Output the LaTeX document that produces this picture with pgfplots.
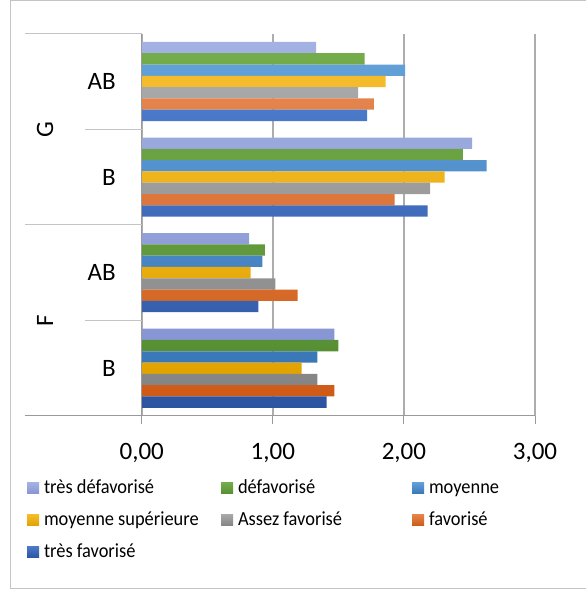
\documentclass[border=0pt]{standalone}
\usepackage{fontspec}
\setmainfont{Carlito}
\newfontfamily\legfont{Carlito}[FakeStretch=0.92]
\usepackage{pgfplots}
\pgfplotsset{compat=1.18}

\definecolor{tdT}{HTML}{A3B2E2}\definecolor{tdB}{HTML}{8796D4}
\definecolor{dT}{HTML}{74AC4C}\definecolor{dB}{HTML}{578F34}
\definecolor{mT}{HTML}{62A0D8}\definecolor{mB}{HTML}{3A77B7}
\definecolor{msT}{HTML}{F4BC2C}\definecolor{msB}{HTML}{E2A300}
\definecolor{afT}{HTML}{A8A8A8}\definecolor{afB}{HTML}{858585}
\definecolor{fT}{HTML}{E4844C}\definecolor{fB}{HTML}{CE5B16}
\definecolor{tfT}{HTML}{4B79C9}\definecolor{tfB}{HTML}{2C54A1}
\definecolor{gridc}{HTML}{ADADAD}
\definecolor{axisc}{HTML}{9A9A9A}
\definecolor{framec}{HTML}{C4C4C4}

\begin{document}
\begin{tikzpicture}[x=1bp,y=1bp]
\useasboundingbox (0,0) rectangle (586,590);
\draw[framec, line width=1bp] (586,589.5) -- (10.5,589.5) -- (10.5,1) -- (586,1);
\begin{axis}[
  at={(141.7bp,174bp)}, anchor=south west,
  scale only axis, width=393.3bp, height=382.3bp,
  xmin=0, xmax=3, ymin=-0.5, ymax=3.5,
  clip=false,
  axis line style={draw=none},
  tick style={draw=none},
  major tick length=0pt,
  xmajorgrids, grid style={gridc, line width=1.8bp},
  xtick={0,1,2,3},
  xticklabels={{0,00},{1,00},{2,00},{3,00}},
  xticklabel style={font=\fontsize{25bp}{30bp}\selectfont, anchor=base, inner sep=0pt, yshift=-44bp},
  ytick={0,1,2,3},
  yticklabels={B,AB,B,AB},
  yticklabel style={font=\fontsize{25bp}{30bp}\selectfont, anchor=east, inner sep=0pt, xshift=-25.7bp},
  xbar, bar width=11.3bp,
  legend columns=3,
  legend cell align=left,
  legend image code/.code={\path[#1, draw=none] (0bp,-5.5bp) rectangle (12bp,5.5bp);},
  legend style={draw=none, fill=none, inner sep=0pt, outer sep=0pt,
    at={(-0.2916,-0.1622)}, anchor=north west,
    font=\legfont\fontsize{20bp}{24bp}\selectfont,
    nodes={inner sep=0pt, text height=15bp, text depth=5bp},
    row sep=12bp,
    /tikz/every odd column/.append style={column sep=5bp},
    /tikz/every even column/.append style={column sep=0bp}},
]
\addplot[xbar, draw=none, top color=tdT, bottom color=tdB, bar shift=33.9bp]
  coordinates {(1.47,0) (0.82,1) (2.52,2) (1.33,3)};
\addlegendentry{\makebox[177bp][l]{très défavorisé}}
\addplot[xbar, draw=none, top color=dT, bottom color=dB, bar shift=22.6bp]
  coordinates {(1.50,0) (0.94,1) (2.45,2) (1.70,3)};
\addlegendentry{\makebox[174bp][l]{défavorisé}}
\addplot[xbar, draw=none, top color=mT, bottom color=mB, bar shift=11.3bp]
  coordinates {(1.34,0) (0.92,1) (2.63,2) (2.01,3)};
\addlegendentry{moyenne}
\addplot[xbar, draw=none, top color=msT, bottom color=msB, bar shift=0bp]
  coordinates {(1.22,0) (0.83,1) (2.31,2) (1.86,3)};
\addlegendentry{\makebox[177bp][l]{moyenne supérieure}}
\addplot[xbar, draw=none, top color=afT, bottom color=afB, bar shift=-11.3bp]
  coordinates {(1.34,0) (1.02,1) (2.20,2) (1.65,3)};
\addlegendentry{\makebox[174bp][l]{Assez favorisé}}
\addplot[xbar, draw=none, top color=fT, bottom color=fB, bar shift=-22.6bp]
  coordinates {(1.47,0) (1.19,1) (1.93,2) (1.77,3)};
\addlegendentry{favorisé}
\addplot[xbar, draw=none, top color=tfT, bottom color=tfB, bar shift=-33.9bp]
  coordinates {(1.41,0) (0.89,1) (2.18,2) (1.72,3)};
\addlegendentry{\makebox[177bp][l]{très favorisé}}

% category axis structure
\draw[axisc, line width=1bp] (axis cs:0,3.5) -- (axis cs:0,-0.5) -- ++(0bp,-8bp);
\draw[axisc, line width=1bp] ([xshift=-116.7bp]axis cs:0,-0.5) -- (axis cs:3,-0.5);
\pgfplotsinvokeforeach{1,2,3}{\draw[axisc, line width=1bp] (axis cs:#1,-0.5) -- ++(0bp,-8bp);}
\pgfplotsinvokeforeach{3.5,1.5}{\draw[framec, line width=1bp] (axis cs:0,#1) -- ++(-116.7bp,0bp);}
\pgfplotsinvokeforeach{2.5,0.5}{\draw[framec, line width=1bp] (axis cs:0,#1) -- ++(-56.7bp,0bp);}
\node[font=\fontsize{25bp}{30bp}\selectfont, rotate=90, inner sep=0pt] at ([xshift=-96.7bp]axis cs:0,2.5) {G};
\node[font=\fontsize{25bp}{30bp}\selectfont, rotate=90, inner sep=0pt] at ([xshift=-96.7bp]axis cs:0,0.5) {F};
\end{axis}
\end{tikzpicture}
\end{document}
